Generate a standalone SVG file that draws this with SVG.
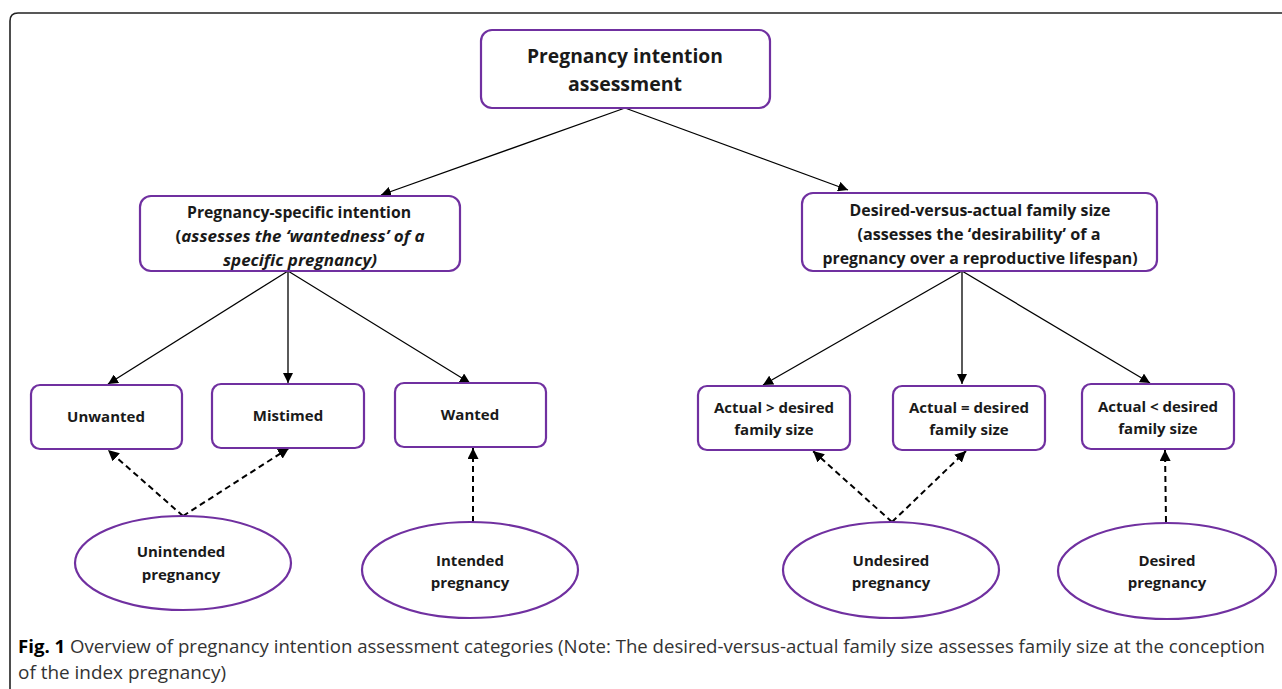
<svg xmlns="http://www.w3.org/2000/svg" width="1282" height="689" viewBox="0 0 1282 689">
<style>
.box{fill:#fff;stroke:#7030A0;stroke-width:2.2}
.t{font-family:"Open Sans","Liberation Sans",sans-serif;font-weight:700;font-size:15px;fill:#1a1a1a;text-anchor:middle}
.m{font-size:16px}
.it{font-style:italic}
.big{font-size:19.5px}
.solid{stroke:#000;stroke-width:1.3;fill:none;marker-end:url(#ah)}
.dash{stroke:#000;stroke-width:2;fill:none;stroke-dasharray:6 4;marker-end:url(#ah2)}
.cap{font-family:"Open Sans","Liberation Sans",sans-serif;font-size:18px;fill:#333}
</style>
<defs>
<marker id="ah" viewBox="0 0 10 10" refX="10" refY="5" markerWidth="10" markerHeight="10" markerUnits="userSpaceOnUse" orient="auto"><path d="M0,0 L10,5 L0,10 z" fill="#000"/></marker>
<marker id="ah2" viewBox="0 0 10 10" refX="10" refY="5" markerWidth="11" markerHeight="11" markerUnits="userSpaceOnUse" orient="auto"><path d="M0,0 L10,5 L0,10 z" fill="#000"/></marker>
</defs>
<rect width="1282" height="689" fill="#fff"/>
<path d="M10,700 L10,21 Q10,13 18,13 L1290,13" fill="none" stroke="#222" stroke-width="1.6"/>

<g id="connectors">
<line class="solid" x1="625" y1="108" x2="381" y2="195"/>
<line class="solid" x1="625" y1="108" x2="848" y2="190"/>
<line class="solid" x1="288" y1="271" x2="108" y2="384"/>
<line class="solid" x1="288" y1="271" x2="288" y2="383"/>
<line class="solid" x1="288" y1="271" x2="470" y2="383"/>
<line class="solid" x1="962" y1="271" x2="763" y2="385"/>
<line class="solid" x1="962" y1="271" x2="962" y2="384"/>
<line class="solid" x1="962" y1="271" x2="1150" y2="383"/>
<line class="dash" x1="183" y1="516" x2="108" y2="450"/>
<line class="dash" x1="183" y1="516" x2="289" y2="448"/>
<line class="dash" x1="473" y1="522" x2="473" y2="448"/>
<line class="dash" x1="892" y1="522" x2="813" y2="451"/>
<line class="dash" x1="892" y1="522" x2="966" y2="451"/>
<line class="dash" x1="1166" y1="522" x2="1165" y2="450"/>
</g>

<g id="n-top">
<rect class="box" x="481" y="30" width="289" height="78" rx="11"/>
<text class="t big" x="625" y="63" textLength="196" lengthAdjust="spacingAndGlyphs">Pregnancy intention</text>
<text class="t big" x="625" y="91">assessment</text>
</g>

<g id="n-specific">
<rect class="box" x="140" y="196" width="320" height="75" rx="11"/>
<text class="t m" x="299" y="218" textLength="224" lengthAdjust="spacingAndGlyphs">Pregnancy-specific intention</text>
<text class="t m" x="300" y="242" textLength="249" lengthAdjust="spacingAndGlyphs">(<tspan class="it">assesses the ‘wantedness’ of a</tspan></text>
<text class="t m it" x="300" y="266" textLength="154" lengthAdjust="spacingAndGlyphs">specific pregnancy)</text>
</g>

<g id="n-family">
<rect class="box" x="802" y="193" width="355" height="78" rx="11"/>
<text class="t m" x="980" y="216" textLength="261" lengthAdjust="spacingAndGlyphs">Desired-versus-actual family size</text>
<text class="t m" x="979" y="240" textLength="243" lengthAdjust="spacingAndGlyphs">(assesses the ‘desirability’ of a</text>
<text class="t m" x="980" y="264" textLength="315" lengthAdjust="spacingAndGlyphs">pregnancy over a reproductive lifespan)</text>
</g>

<g id="n-unwanted">
<rect class="box" x="31" y="385" width="151" height="64" rx="9"/>
<text class="t" x="106" y="422">Unwanted</text>
</g>
<g id="n-mistimed">
<rect class="box" x="212" y="384" width="152" height="64" rx="9"/>
<text class="t" x="288" y="421">Mistimed</text>
</g>
<g id="n-wanted">
<rect class="box" x="395" y="383" width="151" height="64" rx="9"/>
<text class="t" x="470" y="420">Wanted</text>
</g>

<g id="n-gt">
<rect class="box" x="698" y="386" width="152" height="64" rx="9"/>
<text class="t" x="774" y="413">Actual &gt; desired</text>
<text class="t" x="774" y="435">family size</text>
</g>
<g id="n-eq">
<rect class="box" x="893" y="386" width="152" height="64" rx="9"/>
<text class="t" x="969" y="413">Actual = desired</text>
<text class="t" x="969" y="435">family size</text>
</g>
<g id="n-lt">
<rect class="box" x="1082" y="384" width="152" height="65" rx="9"/>
<text class="t" x="1158" y="412">Actual &lt; desired</text>
<text class="t" x="1158" y="434">family size</text>
</g>

<g id="n-unintended">
<ellipse class="box" cx="183" cy="563" rx="108" ry="47"/>
<text class="t" x="181" y="557">Unintended</text>
<text class="t" x="181" y="580">pregnancy</text>
</g>
<g id="n-intended">
<ellipse class="box" cx="470" cy="570" rx="108" ry="48"/>
<text class="t" x="470" y="566">Intended</text>
<text class="t" x="470" y="588">pregnancy</text>
</g>
<g id="n-undesired">
<ellipse class="box" cx="891" cy="570" rx="108" ry="48"/>
<text class="t" x="891" y="566">Undesired</text>
<text class="t" x="891" y="588">pregnancy</text>
</g>
<g id="n-desired">
<ellipse class="box" cx="1167" cy="571" rx="109" ry="48"/>
<text class="t" x="1167" y="566">Desired</text>
<text class="t" x="1167" y="588">pregnancy</text>
</g>

<g id="caption">
<text class="cap" x="18" y="653" textLength="1247" lengthAdjust="spacingAndGlyphs"><tspan font-weight="700" fill="#000">Fig. 1</tspan> Overview of pregnancy intention assessment categories (Note: The desired-versus-actual family size assesses family size at the conception</text>
<text class="cap" x="18" y="679" textLength="208" lengthAdjust="spacingAndGlyphs">of the index pregnancy)</text>
</g>
</svg>
